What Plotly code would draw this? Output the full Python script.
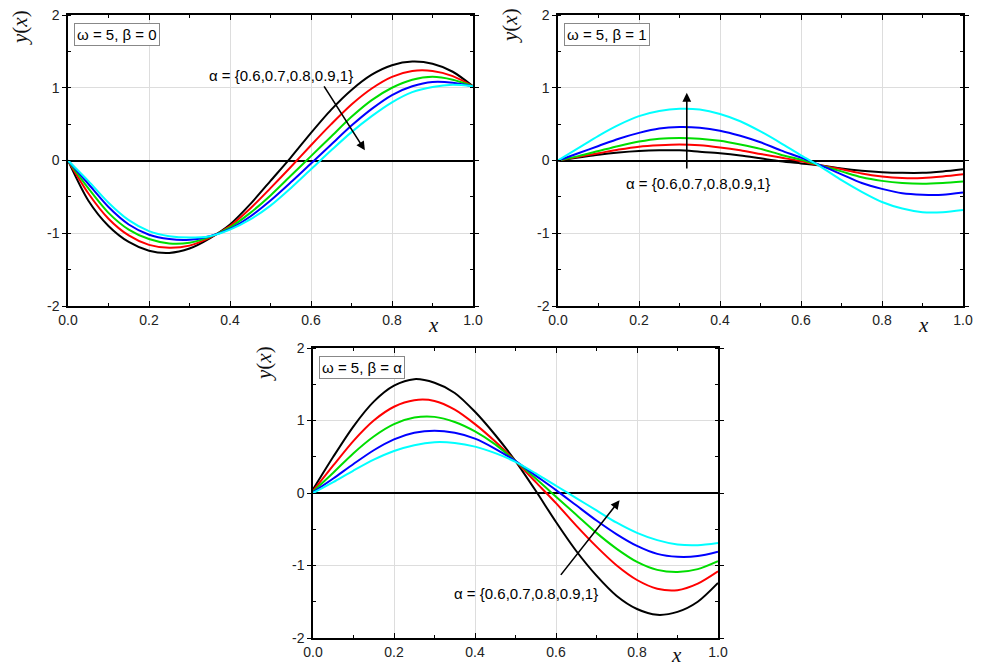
import plotly.graph_objects as go

# ---------------- data ----------------
x_pts = [0.0, 0.05, 0.1, 0.15, 0.2, 0.25, 0.3, 0.35, 0.4, 0.45, 0.5,
         0.55, 0.6, 0.65, 0.7, 0.75, 0.8, 0.85, 0.9, 0.95, 1.0]
alpha_labels = ["0.6", "0.7", "0.8", "0.9", "1"]
line_colors = ["#000000", "#ff0000", "#00dd00", "#0000ff", "#00ffff"]

# panel 1: omega = 5, beta = 0
b0_a06 = [0, -0.55, -0.9, -1.12, -1.24, -1.27, -1.21, -1.07, -0.88, -0.6, -0.28,
          0.04, 0.38, 0.7, 0.97, 1.18, 1.31, 1.36, 1.33, 1.22, 1.02]
b0_a07 = [0, -0.45, -0.8, -1.03, -1.16, -1.2, -1.17, -1.06, -0.9, -0.66, -0.38,
          -0.09, 0.21, 0.5, 0.77, 0.99, 1.15, 1.23, 1.23, 1.16, 1.02]
b0_a08 = [0, -0.38, -0.72, -0.95, -1.08, -1.14, -1.13, -1.05, -0.92, -0.72, -0.48,
          -0.21, 0.06, 0.33, 0.6, 0.83, 1.0, 1.11, 1.15, 1.11, 1.02]
b0_a09 = [0, -0.32, -0.64, -0.88, -1.02, -1.08, -1.09, -1.04, -0.94, -0.77, -0.55,
          -0.3, -0.04, 0.22, 0.48, 0.71, 0.9, 1.02, 1.08, 1.07, 1.02]
b0_a10 = [0, -0.28, -0.58, -0.82, -0.97, -1.04, -1.06, -1.04, -0.95, -0.81, -0.62,
          -0.38, -0.12, 0.14, 0.39, 0.61, 0.8, 0.94, 1.01, 1.04, 1.02]

# panel 2: omega = 5, beta = 1
b1_a06 = [0, 0.04, 0.08, 0.11, 0.13, 0.14, 0.14, 0.12, 0.1, 0.07, 0.03,
          -0.01, -0.04, -0.07, -0.11, -0.14, -0.16, -0.17, -0.17, -0.15, -0.12]
b1_a07 = [0, 0.05, 0.1, 0.15, 0.19, 0.21, 0.22, 0.21, 0.18, 0.14, 0.09,
          0.04, -0.01, -0.07, -0.12, -0.18, -0.22, -0.24, -0.24, -0.22, -0.19]
b1_a08 = [0, 0.06, 0.13, 0.2, 0.26, 0.3, 0.31, 0.3, 0.27, 0.22, 0.16,
          0.08, 0.01, -0.07, -0.15, -0.23, -0.28, -0.31, -0.32, -0.31, -0.29]
b1_a09 = [0, 0.1, 0.2, 0.3, 0.38, 0.44, 0.46, 0.45, 0.41, 0.34, 0.25,
          0.14, 0.04, -0.07, -0.19, -0.31, -0.39, -0.45, -0.47, -0.47, -0.44]
b1_a10 = [0, 0.17, 0.34, 0.49, 0.61, 0.68, 0.71, 0.7, 0.64, 0.54, 0.4,
          0.24, 0.07, -0.09, -0.27, -0.43, -0.57, -0.66, -0.71, -0.71, -0.68]

# panel 3: omega = 5, beta = alpha
ba_a06 = [0.05, 0.5, 0.92, 1.26, 1.48, 1.57, 1.52, 1.38, 1.12, 0.8, 0.44,
          0.03, -0.4, -0.8, -1.14, -1.42, -1.6, -1.68, -1.64, -1.5, -1.24]
ba_a07 = [0.03, 0.38, 0.72, 1.0, 1.19, 1.28, 1.27, 1.15, 0.95, 0.71, 0.44,
          0.15, -0.14, -0.45, -0.74, -1.0, -1.2, -1.32, -1.34, -1.25, -1.08]
ba_a08 = [0.02, 0.28, 0.55, 0.78, 0.95, 1.04, 1.05, 0.98, 0.85, 0.67, 0.44,
          0.2, -0.05, -0.3, -0.55, -0.77, -0.95, -1.06, -1.09, -1.05, -0.94]
ba_a09 = [0.01, 0.2, 0.4, 0.59, 0.74, 0.83, 0.86, 0.83, 0.75, 0.61, 0.44,
          0.24, 0.04, -0.17, -0.38, -0.57, -0.73, -0.84, -0.88, -0.87, -0.81]
ba_a10 = [0, 0.15, 0.31, 0.46, 0.58, 0.66, 0.7, 0.69, 0.64, 0.55, 0.43,
          0.27, 0.1, -0.07, -0.24, -0.41, -0.55, -0.65, -0.71, -0.72, -0.69]

panel_titles = ["ω = 5, β = 0", "ω = 5, β = 1", "ω = 5, β = α"]
alpha_text = "α = {0.6,0.7,0.8,0.9,1}"
x_ticks = [0, 0.2, 0.4, 0.6, 0.8, 1.0]
x_ticktext = ["0.0", "0.2", "0.4", "0.6", "0.8", "1.0"]
y_ticks = [-2, -1, 0, 1, 2]
y_ticktext = ["-2", "-1", "0", "1", "2"]

panels = [
    [b0_a06, b0_a07, b0_a08, b0_a09, b0_a10],
    [b1_a06, b1_a07, b1_a08, b1_a09, b1_a10],
    [ba_a06, ba_a07, ba_a08, ba_a09, ba_a10],
]

# ---------------- figure ----------------
W, H = 981, 668
OFF = 8  # page body margin compensation
fig = go.Figure()
axis_ids = ["", "2", "3"]
for p, series in enumerate(panels):
    aid = axis_ids[p]
    for i, ys in enumerate(series):
        fig.add_trace(go.Scatter(
            x=x_pts, y=ys, mode="lines",
            line=dict(color=line_colors[i], width=2, shape="spline", smoothing=0.8),
            name="α = " + alpha_labels[i], showlegend=False,
            xaxis="x" + aid, yaxis="y" + aid))

# pixel boxes of plot areas on the page: (left, right, top, bottom)
boxes = [(68, 473, 15, 306), (558, 963, 15, 306), (313, 718, 348, 638)]

font_tick = dict(family="Liberation Sans, Arial, sans-serif", size=14, color="#222")
layout = dict(width=W, height=H, margin=dict(l=0, r=0, t=0, b=0, autoexpand=False),
              paper_bgcolor="white", plot_bgcolor="white", showlegend=False)

for p, (l, r, t, b) in enumerate(boxes):
    aid = axis_ids[p]
    l, r, t, b = l - OFF, r - OFF, t - OFF, b - OFF
    xa = dict(domain=[l / W, r / W], range=[0, 1], anchor="y" + aid, automargin=False,
              tickvals=x_ticks, ticktext=x_ticktext, tickfont=font_tick, ticklabeloverflow="allow",
              showline=True, linecolor="black", linewidth=1.5, mirror="allticks",
              ticks="inside", ticklen=5, tickcolor="black", tickwidth=1,
              minor=dict(dtick=0.1, ticks="inside", ticklen=3, tickcolor="black", showgrid=False),
              showgrid=True, gridcolor="#dddddd", gridwidth=1, zeroline=False)
    ya = dict(domain=[1 - b / H, 1 - t / H], range=[-2, 2], anchor="x" + aid, automargin=False,
              tickvals=y_ticks, ticktext=y_ticktext, tickfont=font_tick, ticklabeloverflow="allow",
              showline=True, linecolor="black", linewidth=1.5, mirror="allticks",
              ticks="outside", ticklen=4, tickcolor="black", tickwidth=1,
              minor=dict(dtick=0.5, ticks="inside", ticklen=3, tickcolor="black", showgrid=False),
              showgrid=True, gridcolor="#dddddd", gridwidth=1,
              zeroline=True, zerolinecolor="black", zerolinewidth=1.5)
    layout["xaxis" + aid] = xa
    layout["yaxis" + aid] = ya

fig.update_layout(**layout)

ann = []
label_font = dict(family="Liberation Sans, Arial, sans-serif", size=15, color="black")
serif = dict(family="Liberation Serif, Times New Roman, serif", size=21, color="#111")

# y-axis titles and x-axis titles (page pixel positions)
ylab_pos = [(20, 28), (510, 26), (264, 364)]
xlab_pos = [(433, 325), (923, 325), (676, 655)]
for (px, py) in ylab_pos:
    ann.append(dict(xref="paper", yref="paper", x=(px - OFF) / W, y=1 - (py - OFF) / H,
                    text="<i>y</i>(<i>x</i>)", showarrow=False, textangle=-90, font=serif,
                    xanchor="center", yanchor="middle"))
for (px, py) in xlab_pos:
    ann.append(dict(xref="paper", yref="paper", x=(px - OFF) / W, y=1 - (py - OFF) / H,
                    text="<i>x</i>", showarrow=False, font=serif,
                    xanchor="center", yanchor="middle"))

# panel title boxes
for p in range(3):
    aid = axis_ids[p]
    ann.append(dict(xref="x" + aid + " domain", yref="y" + aid + " domain", x=0.014, y=0.974,
                    xanchor="left", yanchor="top", text=panel_titles[p], showarrow=False,
                    font=label_font, bordercolor="#888", borderwidth=1, borderpad=2, bgcolor="white"))

# arrows: (tip x, tip y, tail x, tail y) and text position
arrows = [
    ("", 0.733, 0.14, 0.63, 1.04, 0.525, 1.175),
    ("2", 0.318, 0.93, 0.318, -0.13, 0.346, -0.31),
    ("3", 0.757, -0.1, 0.609, -1.15, 0.527, -1.38),
]
for aid, tx, ty, sx, sy, lx, ly in arrows:
    ann.append(dict(xref="x" + aid, yref="y" + aid, x=tx, y=ty, axref="x" + aid, ayref="y" + aid,
                    ax=sx, ay=sy, text="", showarrow=True, arrowhead=2, arrowsize=1.1,
                    arrowwidth=1.6, arrowcolor="black"))
    ann.append(dict(xref="x" + aid, yref="y" + aid, x=lx, y=ly, text=alpha_text, showarrow=False,
                    font=label_font, xanchor="center", yanchor="middle"))

fig.update_layout(annotations=ann)
fig.write_html("out.html")
